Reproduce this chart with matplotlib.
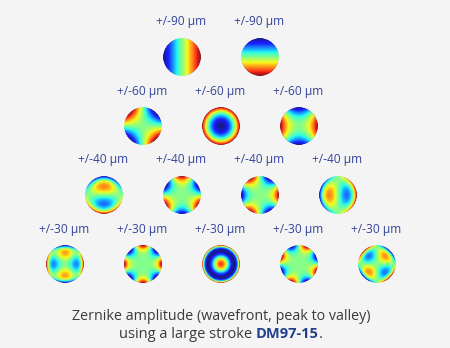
import numpy as np
import matplotlib.pyplot as plt
from matplotlib.patches import Circle
from math import factorial

# amplitude labels per row (um, peak to valley)
row_amps = [[90, 90], [60, 60, 60], [40, 40, 40, 40], [30, 30, 30, 30, 30]]

# zernike modes per row: (n, m, sign); m<0 -> sin term, m>0 -> cos term
row_modes = [
    [(1, 1, 1), (1, -1, -1)],
    [(2, -2, -1), (2, 0, 1), (2, 2, 1)],
    [(3, -1, -1), (3, -3, -1), (3, 3, 1), (3, 1, 1)],
    [(4, 2, 1), (4, 4, 1), (4, 0, 1), (4, -4, -1), (4, -2, -1)],
]

row_y = [57, 126, 195, 264]
x_mid = 221
dx = 78
rad = 19
label_dy = 35

label_col = '#33449a'
text_col = '#3a3a3a'
bg = '#f4f4f4'

plt.rcParams['font.family'] = ['Open Sans', 'DejaVu Sans']


def radial(n, m, r):
    m = abs(m)
    out = np.zeros_like(r)
    for k in range((n - m) // 2 + 1):
        c = (-1) ** k * factorial(n - k) / (factorial(k) * factorial((n + m) // 2 - k) * factorial((n - m) // 2 - k))
        out += c * r ** (n - 2 * k)
    return out


def zernike(n, m, npix=48):
    g = np.linspace(-1, 1, npix)
    x, y = np.meshgrid(g, g)
    r = np.hypot(x, y)
    th = np.arctan2(y, x)
    z = radial(n, m, r)
    if m > 0:
        z = z * np.cos(m * th)
    elif m < 0:
        z = z * np.sin(-m * th)
    z[r > 1.02] = np.nan
    return z


fig = plt.figure(figsize=(4.5, 3.48), dpi=100, facecolor=bg)
ax = fig.add_axes([0, 0, 1, 1])
ax.set_xlim(0, 450)
ax.set_ylim(348, 0)
ax.axis('off')

for yc, amps, modes in zip(row_y, row_amps, row_modes):
    k = len(modes)
    xs = x_mid + dx * (np.arange(k) - (k - 1) / 2)
    for xc, a, (n, m, s) in zip(xs, amps, modes):
        z = s * zernike(n, m)
        im = ax.imshow(z, cmap='jet', origin='lower', interpolation='bilinear',
                       extent=(xc - rad, xc + rad, yc + rad, yc - rad),
                       vmin=np.nanmin(z), vmax=np.nanmax(z), alpha=0.9)
        clip = Circle((xc, yc), rad, transform=ax.transData)
        im.set_clip_path(clip)
        ax.text(xc - 1, yc - label_dy, '+/-%d µm' % a, ha='center', va='center',
                fontsize=8.6, color=label_col)

ax.text(221, 316, 'Zernike amplitude (wavefront, peak to valley)', ha='center',
        va='center', fontsize=10.3, color=text_col)

# second caption line with bold part
parts = [('using a large stroke ', 'normal', text_col), ('DM97-15', 'bold', '#23408e'),
         ('.', 'normal', text_col)]
renderer = fig.canvas.get_renderer()
objs = []
for s, w, c in parts:
    t = ax.text(0, 338, s, ha='left', va='baseline', fontsize=10.5, fontweight=w, color=c)
    objs.append(t)
widths = [t.get_window_extent(renderer).width for t in objs]
x0 = 221 - sum(widths) / 2
for t, w in zip(objs, widths):
    t.set_x(x0)
    x0 += w
objs[2].set_x(objs[2].get_position()[0] - 0.5)

fig.savefig('out.png', dpi=100, facecolor=bg)
